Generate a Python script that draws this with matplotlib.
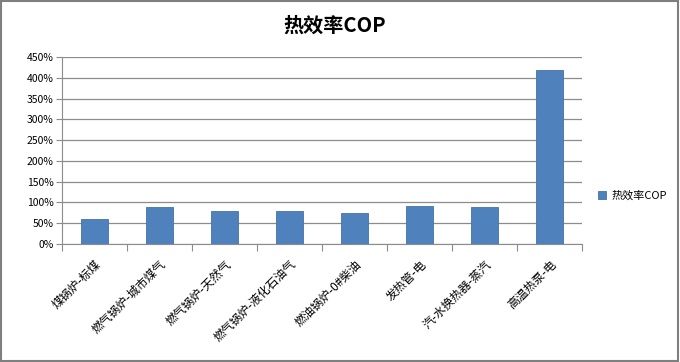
import matplotlib.pyplot as plt
from matplotlib.patches import Rectangle
from matplotlib.ticker import FuncFormatter, MultipleLocator

plt.rcParams['font.family'] = ['Noto Sans CJK SC', 'DejaVu Sans']

categories = ['煤锅炉-标煤', '燃气锅炉-城市煤气', '燃气锅炉-天然气', '燃气锅炉-液化石油气',
              '燃油锅炉-0#柴油', '发热管-电', '汽-水换热器-蒸汽', '高温热泵-电']
cop = [0.60, 0.88, 0.80, 0.80, 0.75, 0.92, 0.90, 4.18]

fig = plt.figure(figsize=(6.8, 3.62), dpi=100)
ax = fig.add_axes([62 / 680, 1 - 244 / 362, 520 / 680, 187 / 362])

x = range(len(categories))
ax.bar(x, cop, width=0.42, color='#4f81bd', edgecolor='#4572a7', linewidth=0.6,
       label='热效率COP', zorder=3)

ax.set_xlim(-0.5, len(categories) - 0.5)
ax.set_ylim(0, 4.5)
ax.yaxis.set_major_locator(MultipleLocator(0.5))
ax.yaxis.set_major_formatter(FuncFormatter(lambda v, p: '%d%%' % round(v * 100)))
ax.grid(axis='y', color='#8c8c8c', linewidth=0.9, zorder=0)

# category borders get the tick marks, labels sit under the bars
ax.set_xticks([i + 0.5 for i in range(-1, len(categories))], minor=False)
ax.set_xticklabels([])
ax.set_xticks(list(x), minor=True)
ax.set_xticklabels(categories, minor=True, rotation=45, ha='right',
                   rotation_mode='anchor', fontsize=8.5)
ax.tick_params(axis='x', which='minor', length=0, pad=10)
ax.tick_params(axis='x', which='major', length=5, color='#8c8c8c', direction='out')
ax.tick_params(axis='y', length=4, color='#8c8c8c', labelsize=7.5, pad=2)

for s in ['top', 'right']:
    ax.spines[s].set_visible(False)
for s in ['left', 'bottom']:
    ax.spines[s].set_color('#8c8c8c')

fig.text(335 / 680, 1 - 25 / 362, '热效率COP', ha='center', va='center',
         fontsize=14.5, fontweight='bold')
fig.legend(loc='center left', bbox_to_anchor=(588 / 680, 1 - 196 / 362),
           frameon=False, fontsize=8, handlelength=0.7, handleheight=0.7,
           handletextpad=0.5)

fig.patches.append(Rectangle((0.002, 0.003), 0.995, 0.994, transform=fig.transFigure,
                             fill=False, edgecolor='#7f7f7f', linewidth=1.5))

fig.savefig('out.png', dpi=100)
